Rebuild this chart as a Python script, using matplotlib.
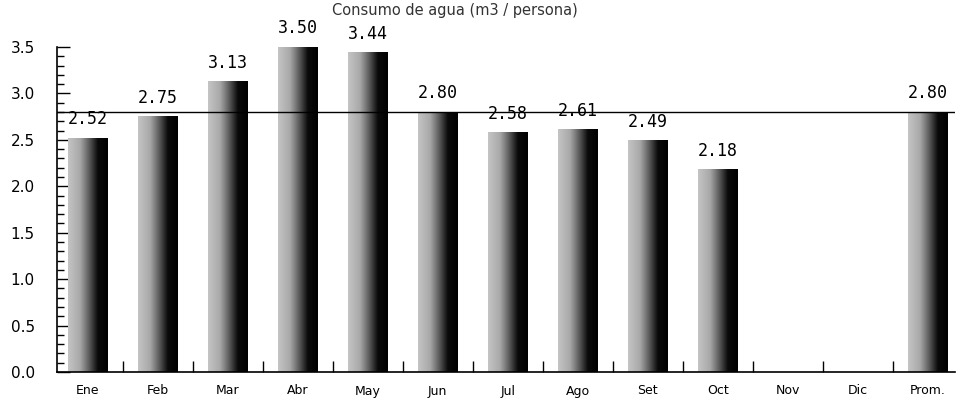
import numpy as np
import matplotlib
matplotlib.use("Agg")
import matplotlib.pyplot as plt
from matplotlib.ticker import MultipleLocator
from matplotlib.colors import LinearSegmentedColormap

# === DATA ===
months = ["Ene", "Feb", "Mar", "Abr", "May", "Jun", "Jul", "Ago", "Set", "Oct", "Nov", "Dic", "Prom."]
values = [2.52, 2.75, 3.13, 3.50, 3.44, 2.80, 2.58, 2.61, 2.49, 2.18, np.nan, np.nan, 2.80]
labels = ["2.52", "2.75", "3.13", "3.50", "3.44", "2.80", "2.58", "2.61", "2.49", "2.18", "", "", "2.80"]
average = 2.80

fig = plt.figure(figsize=(9.59, 4.05), dpi=100)
ax = fig.add_axes([57 / 959, 33 / 405, 898 / 959, 325 / 405])

# dithered-looking gray -> black gradient of the original bars
cmap = LinearSegmentedColormap.from_list(
    "bar", [(0.0, "#c4c4c4"), (0.3, "#a8a8a8"), (0.55, "#555555"), (0.75, "#0a0a0a"), (1.0, "#000000")])
grad = np.linspace(0, 1, 64).reshape(1, -1)

x = np.arange(len(months))
w = 0.57
for xi, v in zip(x, values):
    if np.isnan(v):
        continue
    ax.imshow(grad, cmap=cmap, aspect="auto", extent=[xi - w / 2, xi + w / 2, 0, v],
              interpolation="bilinear", zorder=2)

ax.axhline(average, color="black", lw=1.0, zorder=3)

for xi, v, lab in zip(x, values, labels):
    if np.isnan(v):
        continue
    ax.annotate(lab, (xi, v), xytext=(0, 7), textcoords="offset points",
                ha="center", va="bottom", family="DejaVu Sans Mono", fontsize=12, zorder=4)

ax.set_xlim(-0.44, 12.39)
ax.set_ylim(0, 3.5)

ax.spines["top"].set_visible(False)
ax.spines["right"].set_visible(False)
ax.spines["left"].set_linewidth(1.2)
ax.spines["bottom"].set_linewidth(1.2)

ax.yaxis.set_major_locator(MultipleLocator(0.5))
ax.yaxis.set_minor_locator(MultipleLocator(0.1))
ax.yaxis.set_major_formatter(plt.FuncFormatter(lambda v, p: f"{v:.1f}"))
ax.tick_params(axis="y", which="major", direction="in", length=9, width=1, labelsize=11, pad=16)
ax.tick_params(axis="y", which="minor", direction="in", length=5, width=1)

ax.set_xticks(x[:-1] + 0.5)
ax.set_xticklabels([])
ax.set_xticks(x, minor=True)
ax.set_xticklabels(months, minor=True)
ax.tick_params(axis="x", which="major", direction="in", length=8, width=1)
ax.tick_params(axis="x", which="minor", length=0, labelsize=9, pad=9)

fig.text(455 / 959, 1 - 10 / 405, "Consumo de agua (m3 / persona)", ha="center", va="center",
         fontsize=10.5, color="#333333")

fig.savefig("out.png", dpi=100)
